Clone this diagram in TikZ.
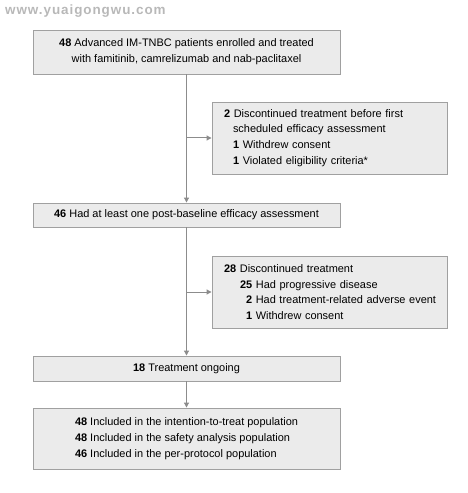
\documentclass[tikz,border=0pt]{standalone}
\usepackage{fontspec}
\setmainfont{Liberation Sans}
\newfontfamily\markfont[LetterSpace=7]{Liberation Sans}
\usetikzlibrary{calc, arrows.meta}
\definecolor{boxfill}{HTML}{EBEBEB}
\definecolor{boxline}{HTML}{A0A0A0}
\definecolor{flowline}{HTML}{8C8C8C}
\newcommand{\nb}[1]{\textbf{#1}}
\begin{document}
\begin{tikzpicture}[x=1bp,y=-1bp,
    flowbox/.style={draw=boxline,fill=boxfill,line width=0.9bp,inner xsep=12bp,inner ysep=0bp,
        font=\fontsize{11}{15.8}\selectfont},
    mainbox/.style={flowbox,minimum width=307bp},
    sidebox/.style={flowbox,inner xsep=4bp,text width=227bp,align=left,minimum height=72bp},
    flow/.style={draw=flowline,line width=1bp},
    flowarrow/.style={flow,-{Triangle[width=5bp,length=5bp]}}]
            \useasboundingbox (0,0) rectangle (468,493);
            \node[anchor=west,inner sep=0bp,text=black!28,font=\markfont\bfseries\fontsize{13.5}{14}\selectfont] (mark) at (5,11.5) {www.yuaigongwu.com};
            \node[mainbox,minimum height=44bp,align=center] (enrol) at (186.5,52) {\nb{48} Advanced IM-TNBC patients enrolled and treated\\with famitinib, camrelizumab and nab-paclitaxel};
            \node[sidebox] (excl) at (329.5,138) {\hspace*{8bp}\nb{2} Discontinued treatment before first\\\hspace*{17bp}scheduled efficacy assessment\\\hspace*{17bp}\nb{1} Withdrew consent\\\hspace*{17bp}\nb{1} Violated eligibility criteria*};
            \node[sidebox] (disc) at (329.5,292) {\hspace*{8bp}\nb{28} Discontinued treatment\\\hspace*{24bp}\nb{25} Had progressive disease\\\hspace*{30bp}\nb{2} Had treatment-related adverse event\\\hspace*{30bp}\nb{1} Withdrew consent};
            \node[mainbox,minimum height=24bp] (eff) at (186.5,215) {\nb{46} Had at least one post-baseline efficacy assessment};
            \node[mainbox,minimum height=25bp] (ongo) at (186.5,368.5) {\nb{18} Treatment ongoing};
            \node[mainbox,minimum height=61bp,align=left] (pop) at (186.5,438.5) {\nb{48} Included in the intention-to-treat population\\\nb{48} Included in the safety analysis population\\\nb{46} Included in the per-protocol population};
            \coordinate (exclfork) at (enrol.south |- excl.west);
            \coordinate (discfork) at (eff.south |- disc.west);
            \draw[flowarrow] (enrol.south) -- (eff.north);
            \draw[flowarrow] (eff.south) -- (ongo.north);
            \draw[flowarrow] (ongo.south) -- (pop.north);
            \draw[flowarrow] (exclfork) -- (excl.west);
            \draw[flowarrow] (discfork) -- (disc.west);
\end{tikzpicture}
\end{document}
